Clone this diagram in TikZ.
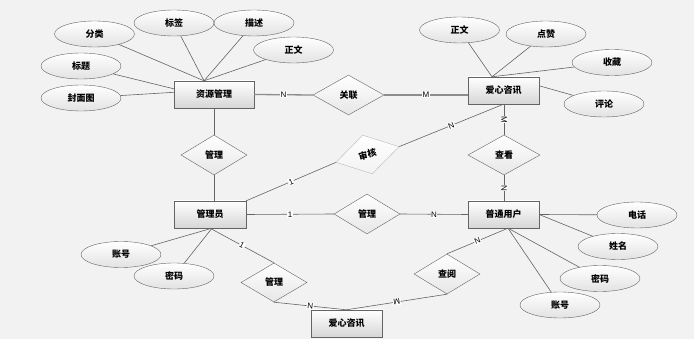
\documentclass[tikz,border=0pt]{standalone}
\usepackage{fontspec}
\setmainfont{Liberation Sans}
\newfontfamily\cjk{Noto Sans CJK SC}
\usetikzlibrary{shapes.geometric, positioning, calc, shadows}
\definecolor{bggray}{RGB}{242, 242, 242}
\definecolor{edgegray}{RGB}{100, 100, 100}
\definecolor{linkgray}{RGB}{140, 140, 140}
\definecolor{shadegray}{RGB}{214, 214, 214}
\definecolor{softgray}{RGB}{185, 185, 185}

\begin{document}
\begin{tikzpicture}[x=1pt, y=-1pt,
  ent/.style={draw=edgegray, top color=white, bottom color=shadegray, minimum width=71pt, minimum height=27pt, inner sep=0pt, font=\cjk\small\bfseries,
    drop shadow={shadow xshift=1pt, shadow yshift=-1pt, opacity=0.3}},
  attr/.style={ellipse, draw=edgegray, top color=white, bottom color=shadegray!70, minimum width=80pt, minimum height=26pt, inner sep=0pt, font=\cjk\small\bfseries},
  rel/.style={diamond, draw=edgegray, top color=white, bottom color=shadegray!60, aspect=1.7, minimum width=66pt, minimum height=40pt, inner sep=0pt, font=\cjk\small\bfseries},
  aline/.style={draw=edgegray, line width=0.6pt},
  rline/.style={draw=linkgray, line width=1.3pt},
  card/.style={font=\footnotesize, fill=white, inner sep=0.6pt}
]
  \path[use as bounding box, fill=bggray] (0, 0) rectangle (694, 339);

  % entities
  \node[ent, minimum width=80pt] (ZY) at (214, 94.5) {资源管理};
  \node[ent] (AX) at (503.5, 90.5) {爱心咨讯};
  \node[ent, minimum width=72pt] (GLY) at (210, 214.5) {管理员};
  \node[ent] (YH) at (503.5, 214.5) {普通用户};
  \node[ent] (AX2) at (346.5, 323.5) {爱心咨讯};

  % relationships
  \node[rel, minimum width=71pt] (GL) at (348.5, 95) {关联};
  \node[rel] (GL1) at (214, 155) {管理};
  \node[rel, draw=softgray, bottom color=gray!10, minimum width=65pt, rotate=14] (SH) at (367.5, 154.5) {审核};
  \node[rel, minimum width=72pt] (CK) at (504, 155) {查看};
  \node[rel] (GL2) at (367, 214) {管理};
  \node[rel] (CY) at (447, 274) {查阅};
  \node[rel, minimum height=39pt] (GL3) at (274, 282.5) {管理};

  % attributes
  \node[attr] (fl) at (94.5, 34) {分类};
  \node[attr] (bq) at (174, 23) {标签};
  \node[attr] (ms) at (254, 23) {描述};
  \node[attr] (zw) at (293.5, 50) {正文};
  \node[attr] (bt) at (81, 66) {标题};
  \node[attr] (fm) at (81, 98) {封面图};
  \node[attr] (zw2) at (459.5, 30) {正文};
  \node[attr] (dz) at (546, 34) {点赞};
  \node[attr] (sc) at (612, 62.5) {收藏};
  \node[attr] (pl) at (604, 104) {评论};
  \node[attr] (zh) at (121, 254.5) {账号};
  \node[attr] (mm) at (174, 276) {密码};
  \node[attr] (dh) at (637, 215) {电话};
  \node[attr] (xm) at (618, 246.5) {姓名};
  \node[attr] (mm2) at (600, 278.5) {密码};
  \node[attr] (zh2) at (560, 305) {账号};

  \coordinate (zyTop) at ($(ZY.north)+(-10, 0)$);
  \coordinate (axTop) at ($(AX.north)+(-11.5, 0)$);
  \coordinate (glyBot) at ($(GLY.south)+(2, 0)$);
  \coordinate (yhBot) at ($(YH.south)+(4.5, 0)$);

  % attribute lines
  \foreach \a in {fl, bq, ms, zw} \draw[aline] (\a) -- (zyTop);
  \draw[aline] (bt) -- ($(ZY.north west)+(0, 8)$);
  \draw[aline] (fm) -- ($(ZY.north west)+(0, 11.5)$);
  \foreach \a in {zw2, dz, sc} \draw[aline] (\a) -- (axTop);
  \draw[aline] (pl) -- ($(AX.north east)+(0, 9)$);
  \foreach \a in {zh, mm} \draw[aline] (\a) -- (glyBot);
  \draw[aline] (dh) -- (YH.east);
  \draw[aline] (xm) -- (YH.east);
  \foreach \a in {mm2, zh2} \draw[aline] (\a) -- (yhBot);

  % relationship lines
  \draw[rline] (ZY.east) -- (GL.west) node[midway, card] {N};
  \draw[rline] (GL.east) -- (GL.east -| AX.west) node[midway, card] {M};
  \draw[aline] (ZY.south) -- (GL1.north);
  \draw[aline] (GL1.south) -- (GL1.south |- GLY.north);
  \draw[aline] (GLY.north east) -- (SH.west) node[midway, card, sloped] {1};
  \draw[aline] (SH.east) -- (AX.south) node[midway, card, sloped] {N};
  \draw[aline] (AX.south -| CK.north) -- (CK.north) node[midway, card, sloped] {M};
  \draw[aline] (CK.south) -- (CK.south |- YH.north) node[midway, card, sloped] {N};
  \draw[aline] (GLY.east) -- (GL2.west) node[midway, card] {1};
  \draw[aline] (GL2.east) -- (YH.west) node[midway, card] {N};
  \draw[aline] (GLY.south) -- (GL3.north) node[midway, card, sloped] {1};
  \draw[aline] (GL3.south) -- (AX2.north) node[midway, card, sloped] {N};
  \draw[aline] (yhBot) -- (CY.north) node[midway, card, sloped] {N};
  \draw[aline] (CY.south) -- (AX2.north) node[midway, card, sloped, allow upside down] {M};
\end{tikzpicture}
\end{document}
